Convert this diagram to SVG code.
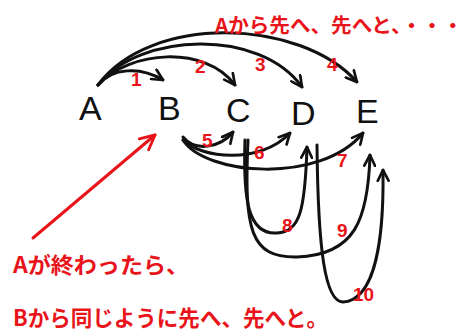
<svg xmlns="http://www.w3.org/2000/svg" width="465" height="335" viewBox="0 0 465 335">
<style>
.node{font-family:"Liberation Sans","DejaVu Sans",sans-serif;font-size:34px;fill:#111}
.arc{fill:none;stroke:#111;stroke-width:3;stroke-linecap:round;stroke-linejoin:round}
.num{font-family:"Liberation Sans","Noto Sans",sans-serif;font-size:19px;font-weight:bold;fill:#e8141a}
.jp{font-family:"Noto Sans CJK JP","Noto Sans CJK SC",sans-serif;fill:#e8141a;font-weight:bold}
.red{fill:none;stroke:#e8141a;stroke-width:3;stroke-linecap:round}
</style>
<defs>
<marker id="ah" viewBox="0 0 10 10" refX="9" refY="5" markerWidth="4.5" markerHeight="4.5" orient="auto" markerUnits="strokeWidth">
<path d="M1,1 L9,5 L1,9" fill="none" stroke="#111" stroke-width="2" stroke-linecap="round" stroke-linejoin="round"/>
</marker>
<marker id="rh" viewBox="0 0 10 10" refX="9" refY="5" markerWidth="6" markerHeight="6" orient="auto" markerUnits="strokeWidth">
<path d="M1,1 L9,5 L1,9" fill="none" stroke="#e8141a" stroke-width="1.6" stroke-linecap="round" stroke-linejoin="round"/>
</marker>
</defs>
<rect width="465" height="335" fill="#fff"/>
<g id="connectors">
<path class="arc" d="M98,85 C112,68 140,66 163,80" marker-end="url(#ah)"/>
<path class="arc" d="M98,85 C130,50 205,45 235,85" marker-end="url(#ah)"/>
<path class="arc" d="M98,85 C140,32 260,28 302,87" marker-end="url(#ah)"/>
<path class="arc" d="M98,85 C150,14 300,18 357,82" marker-end="url(#ah)"/>
<path class="arc" d="M183,137 C195,152 220,148 233,132" marker-end="url(#ah)"/>
<path class="arc" d="M183,140 C200,158 260,165 290,133" marker-end="url(#ah)"/>
<path class="arc" d="M183,140 C205,175 320,185 363,133" marker-end="url(#ah)"/>
<path class="arc" d="M245,140 C243,200 248,235 277,233 C300,232 305,210 307,147" marker-end="url(#ah)"/>
<path class="arc" d="M248,140 C244,230 250,258 297,257 C355,255 368,220 370,155" marker-end="url(#ah)"/>
<path class="arc" d="M317,145 C318,250 325,302 343,302 C375,300 384,240 383,170" marker-end="url(#ah)"/>
<path class="red" d="M33,238 L155,135" marker-end="url(#rh)"/>
</g>
<g id="labels">
<text class="num" x="131" y="86">1</text>
<text class="num" x="195" y="73">2</text>
<text class="num" x="255" y="71">3</text>
<text class="num" x="327" y="71">4</text>
<text class="num" x="202" y="147">5</text>
<text class="num" x="254" y="159">6</text>
<text class="num" x="337" y="167">7</text>
<text class="num" x="282" y="232">8</text>
<text class="num" x="337" y="237">9</text>
<text class="num" x="353" y="301">10</text>
</g>
<g id="A"><text class="node" x="79" y="120">A</text></g>
<g id="B"><text class="node" x="158" y="120">B</text></g>
<g id="C"><text class="node" x="226" y="122">C</text></g>
<g id="D"><text class="node" x="291" y="125">D</text></g>
<g id="E"><text class="node" x="356" y="123">E</text></g>
<g id="notes">
<text class="jp" x="215" y="33" font-size="20" textLength="248" lengthAdjust="spacingAndGlyphs">Aから先へ、先へと、・・・</text>
<text class="jp" x="13" y="273" font-size="22" textLength="176" lengthAdjust="spacingAndGlyphs">Aが終わったら、</text>
<text class="jp" x="13" y="326" font-size="22" textLength="315" lengthAdjust="spacingAndGlyphs">Bから同じように先へ、先へと。</text>
</g>
</svg>
